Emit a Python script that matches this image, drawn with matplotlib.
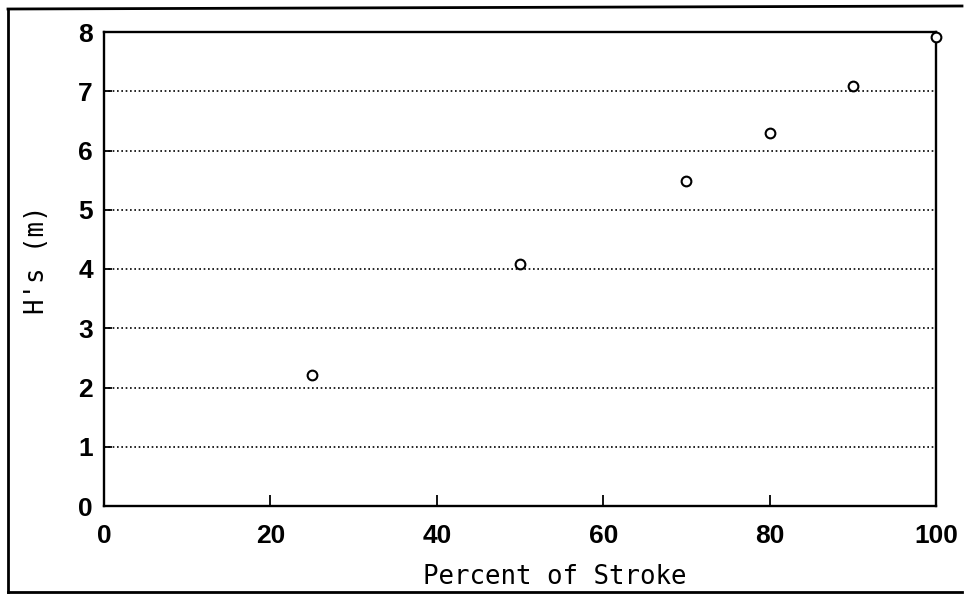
import matplotlib
matplotlib.use("Agg")
import matplotlib.pyplot as plt
from matplotlib.lines import Line2D

stroke_pct = [25, 50, 70, 80, 90, 100]
hs_m = [2.21, 4.08, 5.48, 6.30, 7.09, 7.92]
x_ticks = [0, 20, 40, 60, 80, 100]
y_ticks = [0, 1, 2, 3, 4, 5, 6, 7, 8]

fig = plt.figure(figsize=(9.64, 5.94), dpi=100)
W, H = 964, 594
ax = fig.add_axes([104 / W, 1 - 506 / H, (936 - 104) / W, (506 - 32) / H])

ax.plot(stroke_pct, hs_m, linestyle="none", marker="o", markersize=7,
        markerfacecolor="white", markeredgecolor="black", markeredgewidth=1.5,
        clip_on=False, zorder=5)

ax.set_xlim(0, 100)
ax.set_ylim(0, 8)
ax.set_xticks(x_ticks)
ax.set_yticks(y_ticks)
for v in y_ticks[1:-1]:
    ax.axhline(v, color="black", linestyle=(0, (1, 1.6)), linewidth=1.2, zorder=1)

tickfont = dict(family="Liberation Sans", weight="bold", size=19)
ax.set_xticklabels([str(t) for t in x_ticks], fontdict=tickfont)
ax.set_yticklabels([str(t) for t in y_ticks], fontdict=tickfont)
ax.tick_params(axis="x", direction="in", length=8, width=1.3, pad=13)
ax.tick_params(axis="y", direction="in", length=6, width=1.3, pad=8)

for s in ax.spines.values():
    s.set_linewidth(1.7)

labfont = dict(family="DejaVu Sans Mono", size=18.5)
ax.set_xlabel("Percent of Stroke", fontdict=labfont)
ax.set_ylabel("H's (m)", fontdict=labfont)
# label positions (axes fraction)
ax.xaxis.set_label_coords((555 - 104) / (936 - 104), -(577 - 506) / (506 - 32), transform=ax.transAxes)
ax.xaxis.label.set_va("center")
ax.yaxis.set_label_coords(-(104 - 37) / (936 - 104), (506 - 260) / (506 - 32), transform=ax.transAxes)
ax.yaxis.label.set_va("center")

# outer frame
fig.add_artist(Line2D([8 / W, 8 / W], [1 - 592 / H, 1 - 9 / H], color="black",
                      linewidth=2, transform=fig.transFigure))
fig.add_artist(Line2D([8 / W, 962 / W], [1 - 9 / H, 1 - 6 / H], color="black",
                      linewidth=2, transform=fig.transFigure))
fig.add_artist(Line2D([8 / W, 962 / W], [1 - 592 / H, 1 - 592 / H], color="black",
                      linewidth=2, transform=fig.transFigure))

fig.savefig("out.png", dpi=100)
